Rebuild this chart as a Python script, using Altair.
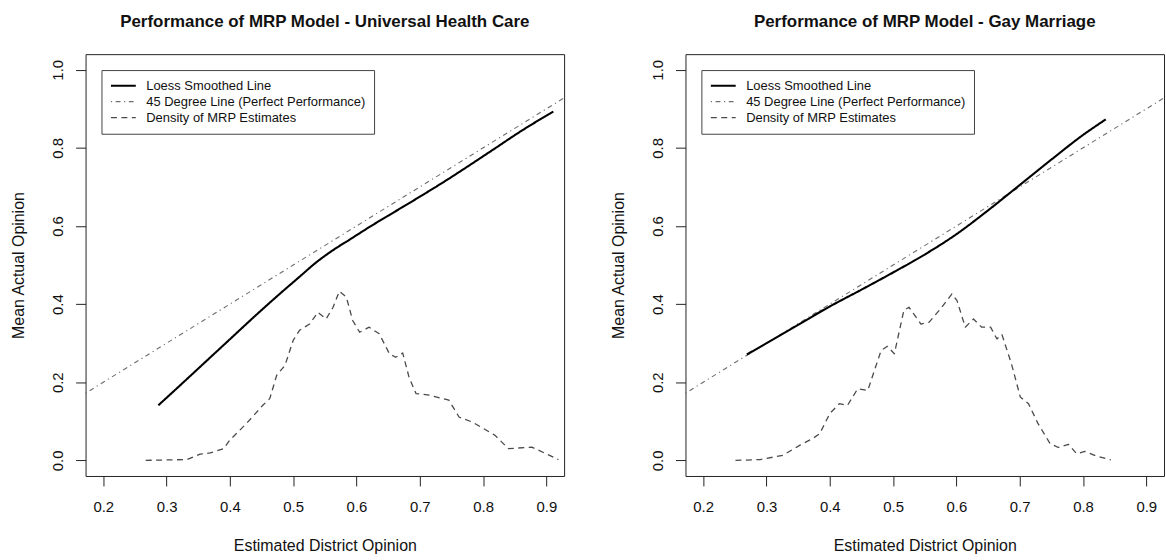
import altair as alt
import pandas as pd

FONT = "Liberation Sans"

SERIES = [
    "Loess Smoothed Line",
    "45 Degree Line (Perfect Performance)",
    "Density of MRP Estimates",
]
SERIES_COLORS = ["#000000", "#6e6e6e", "#4a4a4a"]
SERIES_DASHES = [[1, 0], [1.2, 3.6, 4.8, 3.6], [6, 4.5]]
SERIES_WIDTHS = [2.1, 1.1, 1.3]

X_TICKS = [0.2, 0.3, 0.4, 0.5, 0.6, 0.7, 0.8, 0.9]
Y_TICKS = [0.0, 0.2, 0.4, 0.6, 0.8, 1.0]
X_LIMITS = [0.172, 0.928]
Y_LIMITS = [-0.04, 1.04]

# Universal Health Care
uhc_loess_x = [0.287, 0.32, 0.36, 0.40, 0.44, 0.48, 0.51, 0.535, 0.56, 0.59,
               0.62, 0.66, 0.70, 0.74, 0.78, 0.82, 0.86, 0.911]
uhc_loess_y = [0.141, 0.190, 0.250, 0.310, 0.370, 0.428, 0.470, 0.505, 0.535, 0.566,
               0.597, 0.636, 0.675, 0.715, 0.757, 0.800, 0.843, 0.893]
uhc_dens_x = [0.267, 0.332, 0.353, 0.369, 0.390, 0.400, 0.426, 0.452, 0.463, 0.474,
              0.487, 0.500, 0.510, 0.526, 0.539, 0.552, 0.563, 0.573, 0.584, 0.594,
              0.605, 0.620, 0.636, 0.652, 0.662, 0.673, 0.683, 0.694, 0.715, 0.746,
              0.762, 0.783, 0.819, 0.840, 0.877, 0.919]
uhc_dens_y = [0.000, 0.002, 0.016, 0.019, 0.030, 0.052, 0.094, 0.141, 0.158, 0.218,
              0.243, 0.307, 0.333, 0.349, 0.379, 0.362, 0.392, 0.433, 0.418, 0.358,
              0.328, 0.341, 0.324, 0.273, 0.264, 0.275, 0.213, 0.171, 0.167, 0.154,
              0.111, 0.098, 0.064, 0.030, 0.034, 0.002]

# Gay Marriage
gm_loess_x = [0.269, 0.30, 0.35, 0.40, 0.45, 0.50, 0.55, 0.60, 0.65, 0.70, 0.75, 0.80, 0.836]
gm_loess_y = [0.271, 0.300, 0.347, 0.394, 0.437, 0.481, 0.527, 0.579, 0.640, 0.705, 0.770, 0.833, 0.873]
gm_dens_x = [0.251, 0.290, 0.326, 0.353, 0.373, 0.384, 0.400, 0.415, 0.428, 0.444,
             0.460, 0.481, 0.491, 0.502, 0.517, 0.525, 0.544, 0.557, 0.575, 0.593,
             0.601, 0.614, 0.627, 0.640, 0.654, 0.664, 0.672, 0.687, 0.701, 0.714,
             0.729, 0.748, 0.761, 0.777, 0.790, 0.803, 0.821, 0.844]
gm_dens_y = [0.000, 0.002, 0.013, 0.039, 0.056, 0.068, 0.120, 0.145, 0.141, 0.183,
             0.179, 0.281, 0.292, 0.273, 0.384, 0.392, 0.349, 0.354, 0.388, 0.426,
             0.409, 0.341, 0.362, 0.341, 0.341, 0.311, 0.322, 0.247, 0.162, 0.145,
             0.094, 0.043, 0.033, 0.041, 0.017, 0.023, 0.011, 0.001]


def panel(title, loess_x, loess_y, dens_x, dens_y):
    rows = []
    rows += [{"x": a, "y": b, "series": SERIES[0]} for a, b in zip(loess_x, loess_y)]
    rows += [{"x": a, "y": a, "series": SERIES[1]} for a in X_LIMITS]
    rows += [{"x": a, "y": b, "series": SERIES[2]} for a, b in zip(dens_x, dens_y)]
    df = pd.DataFrame(rows)

    base = alt.Chart(df).encode(
        x=alt.X(
            "x:Q",
            scale=alt.Scale(domain=X_LIMITS, nice=False, zero=False),
            axis=alt.Axis(
                values=X_TICKS, format=".1f", title="Estimated District Opinion",
                tickSize=10, labelPadding=14, labelFlush=False,
                titleX=240.5, titleY=75, titleBaseline="alphabetic",
            ),
        ),
        y=alt.Y(
            "y:Q",
            scale=alt.Scale(domain=Y_LIMITS, nice=False, zero=False),
            axis=alt.Axis(
                values=Y_TICKS, format=".1f", title="Mean Actual Opinion",
                tickSize=10, labelPadding=13, labelAngle=270,
                labelAlign="center", labelBaseline="alphabetic", labelFlush=False,
                titleAngle=270, titleX=-67, titleY=212,
                titleAlign="center", titleBaseline="middle",
            ),
        ),
        color=alt.Color(
            "series:N",
            scale=alt.Scale(domain=SERIES, range=SERIES_COLORS),
            legend=alt.Legend(title=None),
        ),
        strokeDash=alt.StrokeDash(
            "series:N",
            scale=alt.Scale(domain=SERIES, range=SERIES_DASHES),
            legend=alt.Legend(title=None),
        ),
        strokeWidth=alt.StrokeWidth(
            "series:N",
            scale=alt.Scale(type="ordinal", domain=SERIES, range=SERIES_WIDTHS),
            legend=alt.Legend(title=None),
        ),
    )

    # the loess fit is drawn smooth, the reference and density lines piecewise
    smooth = base.mark_line(strokeCap="butt", interpolate="monotone").transform_filter(
        alt.datum.series == SERIES[0]
    )
    straight = base.mark_line(strokeCap="butt", strokeJoin="round").transform_filter(
        alt.datum.series != SERIES[0]
    )

    return alt.layer(straight, smooth).properties(
        width=481,
        height=424,
        title=alt.TitleParams(title, anchor="middle", offset=10, baseline="alphabetic"),
    )


left = panel("Performance of MRP Model - Universal Health Care",
             uhc_loess_x, uhc_loess_y, uhc_dens_x, uhc_dens_y)
right = panel("Performance of MRP Model - Gay Marriage",
              gm_loess_x, gm_loess_y, gm_dens_x, gm_dens_y)

chart = alt.hconcat(left, right, spacing=44).resolve_scale(
    color="independent", strokeDash="independent", strokeWidth="independent"
).resolve_legend(
    color="independent", strokeDash="independent", strokeWidth="independent"
).properties(
    padding={"left": 10, "top": 11, "right": 0, "bottom": 0},
).configure_view(
    stroke="#222222", strokeWidth=1,
).configure_axis(
    grid=False, domain=False, tickColor="#222222", tickWidth=1,
    labelFont=FONT, labelFontSize=15, labelColor="#111111",
    titleFont=FONT, titleFontSize=16, titleFontWeight="normal", titleColor="#111111",
).configure_legend(
    orient="top-left", offset=16, padding=8,
    strokeColor="#444444", strokeWidth=1, fillColor="#ffffff", cornerRadius=0,
    symbolType="stroke", symbolSize=625, clipHeight=15.5, rowPadding=0,
    labelFont=FONT, labelFontSize=13, labelColor="#111111", labelOffset=9,
    labelLimit=400,
).configure_title(
    font=FONT, fontSize=17, fontWeight="bold", color="#111111",
)

chart.save("out.html", embed_options={"renderer": "svg", "actions": False})
